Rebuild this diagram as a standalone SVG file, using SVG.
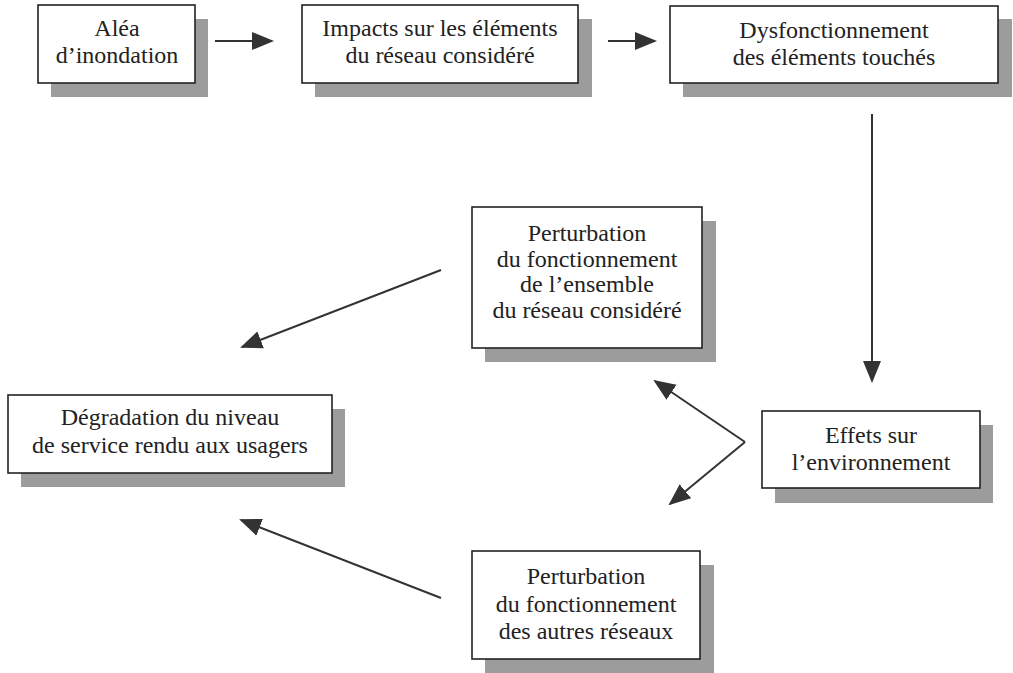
<svg xmlns="http://www.w3.org/2000/svg" width="1013" height="673" viewBox="0 0 1013 673">
<style>
.box{fill:#fff;stroke:#222;stroke-width:1.6}
.sh{fill:#9c9c9c}
.t{font-family:"Liberation Serif","Times New Roman",serif;font-size:24px;fill:#222;text-anchor:middle}
.c{stroke:#333;stroke-width:2;fill:none}
</style>
<defs>
<marker id="ah" markerWidth="10" markerHeight="10" refX="9" refY="5" orient="auto" markerUnits="userSpaceOnUse" viewBox="0 0 10 10">
<path d="M0,0 L10,5 L0,10 z" fill="#333"/>
</marker>
<marker id="ahb" markerWidth="22" markerHeight="20" refX="20" refY="10" orient="auto" markerUnits="userSpaceOnUse" viewBox="0 0 22 20">
<path d="M0,1 L22,10 L0,19 z" fill="#333"/>
</marker>
</defs>
<rect width="1013" height="673" fill="#fff"/>
<g id="n1">
<rect class="sh" x="51" y="19" width="157" height="78"/>
<rect class="box" x="38" y="5" width="157" height="78"/>
<text class="t" x="117" y="36">Aléa</text>
<text class="t" x="117" y="63">d’inondation</text>
</g>
<g id="n2">
<rect class="sh" x="315" y="19" width="277" height="78"/>
<rect class="box" x="302" y="5" width="276" height="78"/>
<text class="t" x="440" y="36">Impacts sur les éléments</text>
<text class="t" x="440" y="63">du réseau considéré</text>
</g>
<g id="n3">
<rect class="sh" x="683" y="19" width="329" height="78"/>
<rect class="box" x="670" y="6" width="328" height="77"/>
<text class="t" x="834" y="38">Dysfonctionnement</text>
<text class="t" x="834" y="65">des éléments touchés</text>
</g>
<g id="n4">
<rect class="sh" x="485" y="221" width="231" height="141"/>
<rect class="box" x="472" y="207" width="230" height="141"/>
<text class="t" x="587" y="241">Perturbation</text>
<text class="t" x="587" y="267">du fonctionnement</text>
<text class="t" x="587" y="292">de l’ensemble</text>
<text class="t" x="587" y="318">du réseau considéré</text>
</g>
<g id="n5">
<rect class="sh" x="21" y="409" width="324" height="78"/>
<rect class="box" x="8" y="395" width="324" height="78"/>
<text class="t" x="170" y="425">Dégradation du niveau</text>
<text class="t" x="170" y="453">de service rendu aux usagers</text>
</g>
<g id="n6">
<rect class="sh" x="775" y="425" width="218" height="78"/>
<rect class="box" x="762" y="411" width="218" height="77"/>
<text class="t" x="871" y="443">Effets sur</text>
<text class="t" x="871" y="470">l’environnement</text>
</g>
<g id="n7">
<rect class="sh" x="485" y="565" width="229" height="108"/>
<rect class="box" x="472" y="551" width="228" height="108"/>
<text class="t" x="586" y="584">Perturbation</text>
<text class="t" x="586" y="612">du fonctionnement</text>
<text class="t" x="586" y="639">des autres réseaux</text>
</g>
<g id="connectors">
<line class="c" x1="215" y1="41" x2="272" y2="41" marker-end="url(#ahb)"/>
<line class="c" x1="608" y1="41" x2="655" y2="41" marker-end="url(#ahb)"/>
<line class="c" x1="872" y1="114" x2="872" y2="381" marker-end="url(#ahb)"/>
<line class="c" x1="441" y1="270" x2="242" y2="347" marker-end="url(#ahb)"/>
<line class="c" x1="441" y1="598" x2="241" y2="520" marker-end="url(#ahb)"/>
<line class="c" x1="745" y1="442" x2="655" y2="381" marker-end="url(#ahb)"/>
<line class="c" x1="745" y1="442" x2="670" y2="504" marker-end="url(#ahb)"/>
</g>
</svg>
